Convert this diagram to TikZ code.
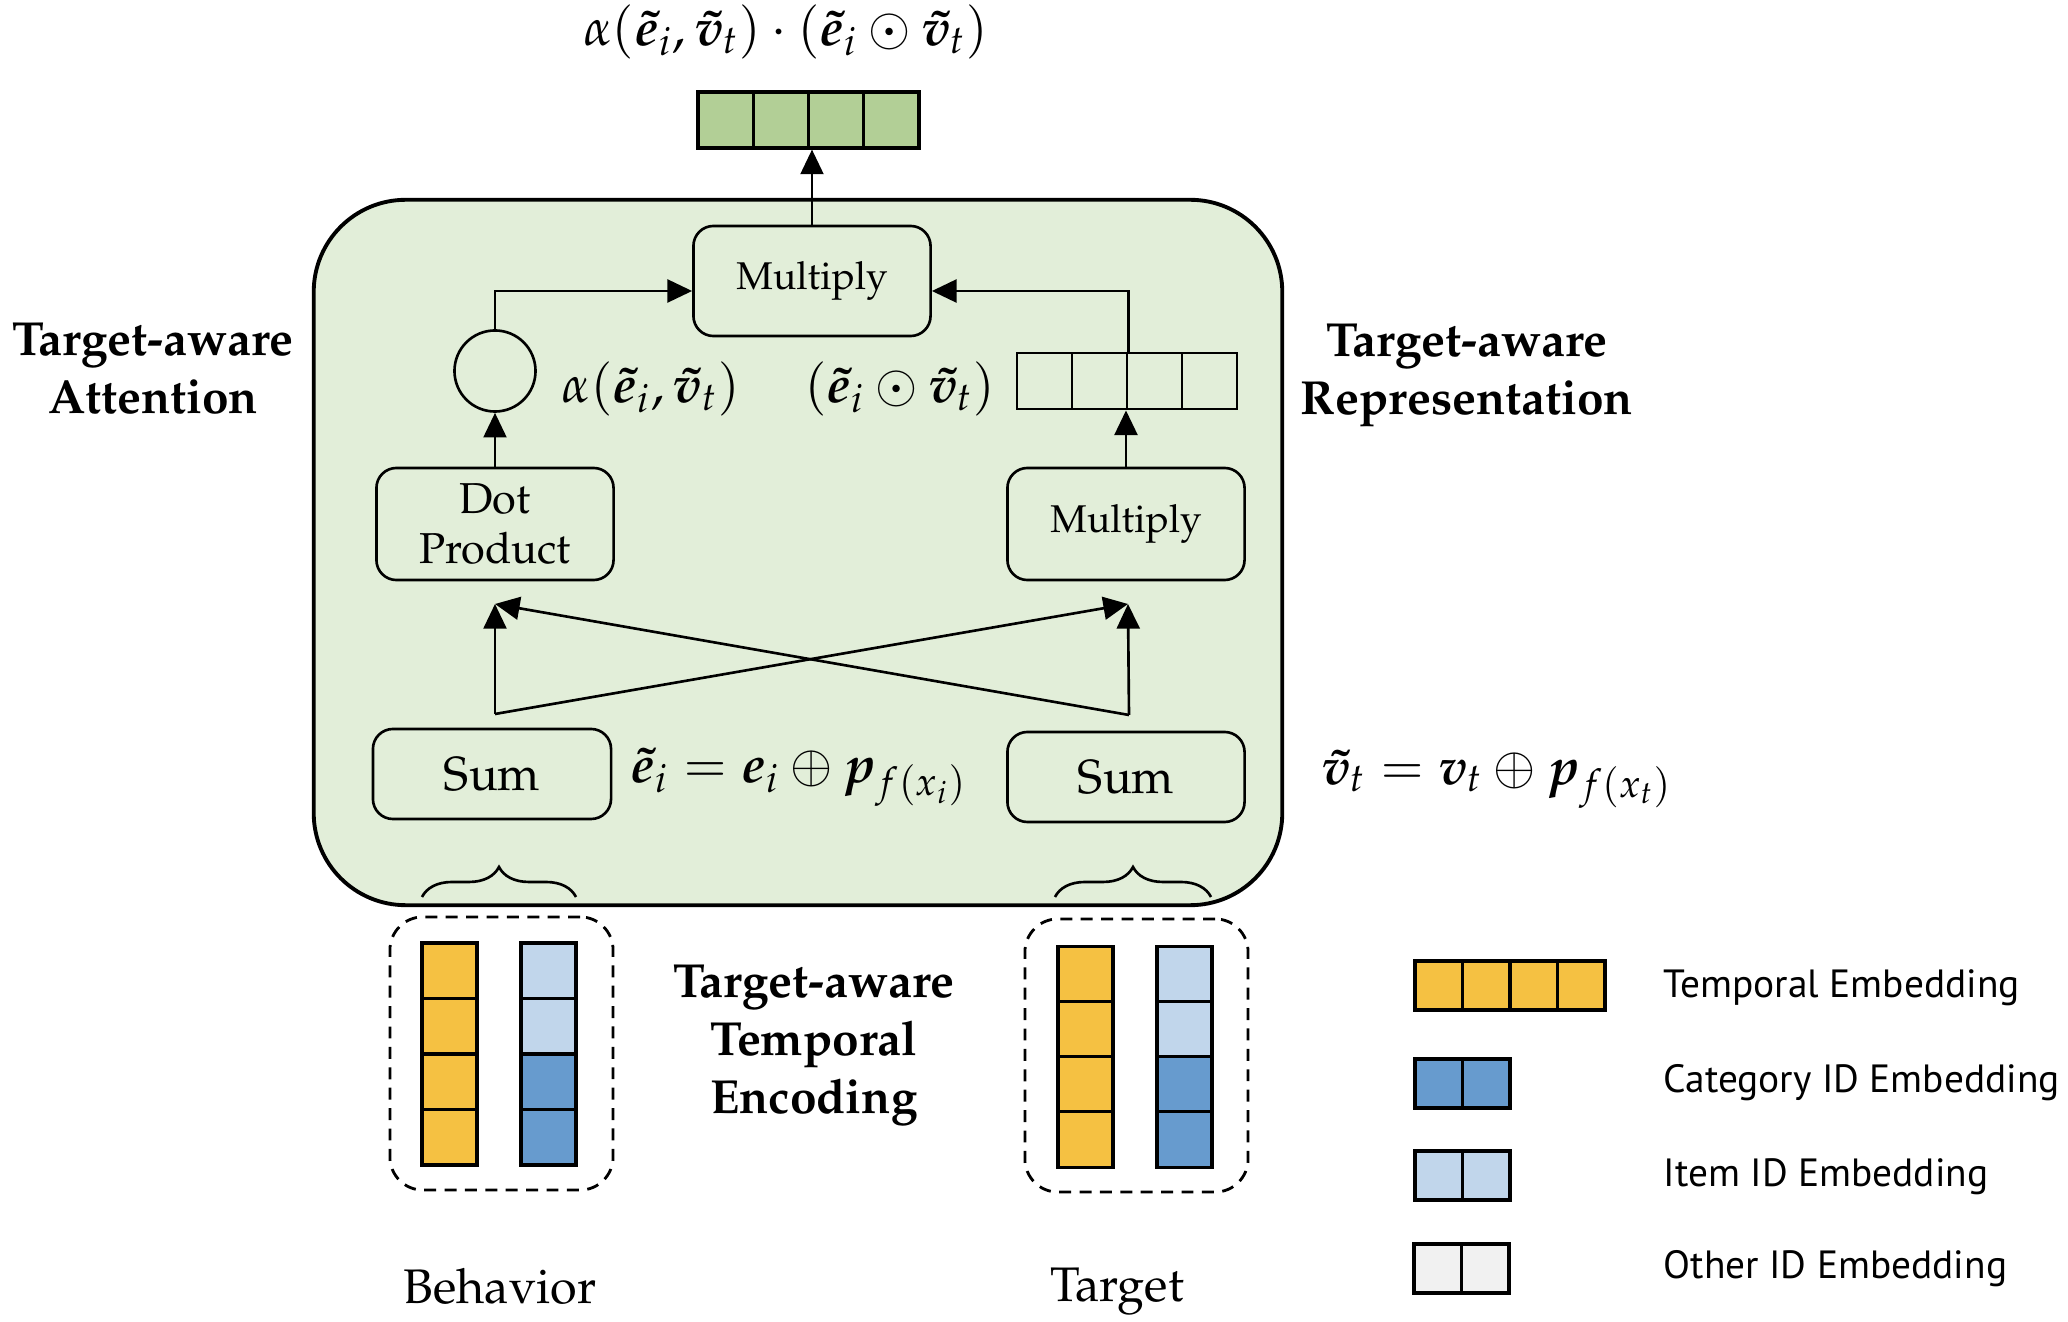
\documentclass[tikz,border=0pt]{standalone}
\usepackage[no-math]{fontspec}
\usepackage[T1]{fontenc}
\usepackage{mathpazo}
\usepackage{bm}
\newfontfamily\legendfont{PT Sans}
\usetikzlibrary{arrows.meta,decorations.pathreplacing}
\newcommand\myfs[2]{\fontsize{#1}{#2}\selectfont}
\newcommand\te{\bm{\tilde e}}
\newcommand\tv{\bm{\tilde v}}
\definecolor{panelbg}{RGB}{226,238,217}
\definecolor{outgreen}{RGB}{178,207,150}
\definecolor{tyellow}{RGB}{245,193,66}
\definecolor{cblue}{RGB}{103,155,206}
\definecolor{iblue}{RGB}{193,214,235}
\definecolor{ogray}{RGB}{241,241,241}
\begin{document}
\begin{tikzpicture}[x=0.01cm,y=-0.01cm,
  opbox/.style={draw, line width=0.75pt, rounded corners=0.2cm, fill=panelbg, inner sep=0pt, align=center},
  cell/.style={draw, line width=0.9pt, inner sep=0pt},
  arr/.style={line width=0.75pt, -{Triangle[length=7pt,width=6.5pt]}},
  bracefx/.style={line width=0.75pt, decorate, decoration={brace, amplitude=0.3cm}},
  dashbox/.style={draw, line width=0.8pt, dash pattern=on 3.4pt off 2.4pt, rounded corners=0.33cm, minimum width=2.23cm, minimum height=2.73cm},
  boldlab/.style={font=\bfseries\myfs{13.6}{16.5}, align=center},
  mathlab/.style={font=\myfs{14.8}{17}},
  leg/.style={font=\legendfont\myfs{11.2}{13}, anchor=west, inner sep=0pt}
]
\useasboundingbox (0,0) rectangle (2068,1322);

% main panel
\node[draw, line width=1.1pt, fill=panelbg, rounded corners=0.92cm, minimum width=9.68cm, minimum height=7.05cm] (panel) at (798,552.5) {};

% output vector
\foreach \i/\xx in {1/725.6,2/780.9,3/836.1,4/891.4}
  \node[cell, fill=outgreen, minimum width=0.5525cm, minimum height=0.56cm] (o\i) at (\xx,120) {};
\node[mathlab] (fout) at (786,32) {$\alpha(\te_i,\tv_t)\cdot(\te_i\odot\tv_t)$};

% boxes
\node[opbox, font=\myfs{11}{13}, minimum width=2.37cm, minimum height=1.10cm] (mul) at (812,281) {Multiply};
\node[opbox, font=\myfs{12.3}{14}, minimum width=2.37cm, minimum height=1.12cm] (dot) at (495,524) {Dot\\Product};
\node[opbox, font=\myfs{11}{13}, minimum width=2.37cm, minimum height=1.12cm] (mulr) at (1126,524) {Multiply};
\node[opbox, font=\myfs{13.6}{16}, minimum width=2.38cm, minimum height=0.90cm] (suml) at (492,774) {Sum};
\node[opbox, font=\myfs{13.6}{16}, minimum width=2.37cm, minimum height=0.90cm] (sumr) at (1126,777) {Sum};

% attention circle
\node[draw, line width=0.75pt, circle, minimum size=0.81cm, inner sep=0pt] (att) at (495,371) {};

% representation vector
\foreach \i/\xx in {1/1044.5,2/1099.5,3/1154.5,4/1209.5}
  \node[cell, line width=0.8pt, minimum width=0.55cm, minimum height=0.56cm] (e\i) at (\xx,381) {};

% math labels
\node[mathlab] (alab) at (651,389) {$\alpha(\te_i,\tv_t)$};
\node[mathlab] (olab) at (900,389) {$(\te_i\odot\tv_t)$};
\node[mathlab] (elab) at (799,777) {$\te_i=\bm e_i\oplus\bm p_{f(x_i)}$};
\node[mathlab] (vlab) at (1497,779) {$\tv_t=\bm v_t\oplus\bm p_{f(x_t)}$};

% connectors
\coordinate (ml) at ([yshift=-0.1cm]mul.west);
\coordinate (mr) at ([yshift=-0.1cm]mul.east);
\draw[arr] (mul.north) -- (mul.north |- o2.south);
\draw[arr] (att.north) |- (ml);
\draw[arr] (e2.north east) |- (mr);
\draw[arr] (dot.north) -- (att.south);
\draw[arr] (mulr.north) -- (mulr.north |- e2.south east);

\coordinate (sl) at (495,714);
\coordinate (sr) at (1129,715);
\coordinate (dl) at (495,604);
\coordinate (dr) at (1128,604);
\draw[arr] (sl) -- (dl);
\draw[arr] (sl) -- (dr);
\draw[arr] (sr) -- (dr);
\draw[arr] (sr) -- (dl);

% braces
\draw[bracefx] (422,897) -- (576,897);
\draw[bracefx] (1055,897) -- (1211,897);

% dashed groups
\node[dashbox] (gb) at (501.5,1053.5) {};
\node[dashbox] (gt) at (1136.5,1055.5) {};

\foreach \i/\yy in {1/970.75,2/1026.25,3/1081.75,4/1137.25}
  \node[cell, fill=tyellow, minimum width=0.55cm, minimum height=0.555cm] (by\i) at (449.5,\yy) {};
\foreach \i/\yy/\cc in {1/970.75/iblue,2/1026.25/iblue,3/1081.75/cblue,4/1137.25/cblue}
  \node[cell, fill=\cc, minimum width=0.55cm, minimum height=0.555cm] (bb\i) at (548.5,\yy) {};
\foreach \i/\yy in {1/974.5,2/1029.5,3/1084.5,4/1139.5}
  \node[cell, fill=tyellow, minimum width=0.55cm, minimum height=0.555cm] (ty\i) at (1085.5,\yy) {};
\foreach \i/\yy/\cc in {1/974.5/iblue,2/1029.5/iblue,3/1084.5/cblue,4/1139.5/cblue}
  \node[cell, fill=\cc, minimum width=0.55cm, minimum height=0.555cm] (tb\i) at (1184.5,\yy) {};

% text labels
\node[boldlab] (latt) at (153,369) {Target-aware\\Attention};
\node[boldlab] (lrep) at (1467,376) {Target-aware\\Representation};
\node[boldlab] (ltte) at (814,1046) {Target-aware\\Temporal\\Encoding};
\node[font=\myfs{13.8}{16}] (lbeh) at (500,1286) {Behavior};
\node[font=\myfs{13.8}{16}] (ltar) at (1117,1292) {Target};

% legend
\foreach \i/\xx in {1/1438.75,2/1486.25,3/1533.75,4/1581.25}
  \node[cell, fill=tyellow, minimum width=0.475cm, minimum height=0.49cm] (ly\i) at (\xx,985.5) {};
\foreach \i/\xx in {1/1438.75,2/1486.25}{
  \node[cell, fill=cblue, minimum width=0.475cm, minimum height=0.49cm] (lc\i) at (\xx,1083.5) {};
  \node[cell, fill=iblue, minimum width=0.475cm, minimum height=0.49cm] (li\i) at (\xx,1175.5) {};
  \node[cell, fill=ogray, minimum width=0.475cm, minimum height=0.49cm] (lo\i) at (\xx-1,1268.5) {};
}
\node[leg] (t1) at (1663,988) {Temporal Embedding};
\node[leg] (t2) at (1663,1083) {Category ID Embedding};
\node[leg] (t3) at (1663,1177) {Item ID Embedding};
\node[leg] (t4) at (1663,1269) {Other ID Embedding};
\end{tikzpicture}
\end{document}
